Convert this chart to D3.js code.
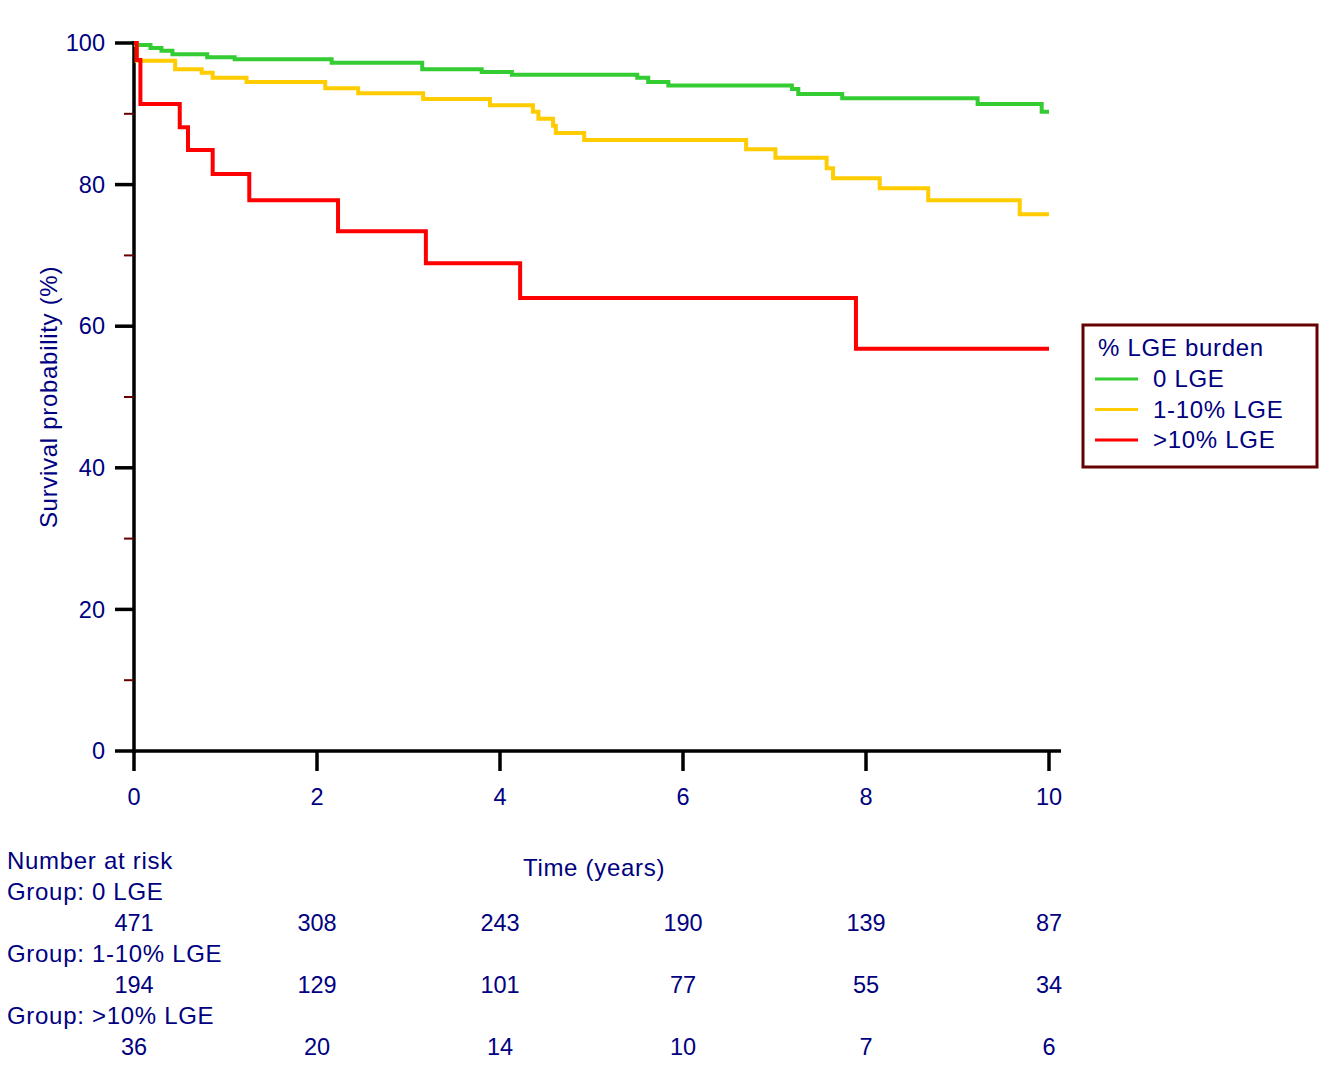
<!DOCTYPE html>
<html>
<head>
<meta charset="utf-8">
<script src="https://cdn.jsdelivr.net/npm/d3@7"></script>
<style>
  body { margin: 0; background: #fff; }
  text { font-family: Arial, "Liberation Sans", sans-serif; fill: #000080; }
  .lbl { font-size: 24px; letter-spacing: 0.7px; }
  .num { font-size: 23.5px; }
</style>
</head>
<body>
<svg id="chart" width="1335" height="1088"></svg>
<script>
// Kaplan-Meier steps: time (years) and survival (%)
const groups = ["0 LGE", "1-10% LGE", ">10% LGE"];
const colors = ["#33cc33", "#ffcc00", "#ff0000"];

const greenTime = [0, 0.02, 0.18, 0.30, 0.42, 0.80, 1.10, 2.16, 3.15, 3.80, 4.13, 5.50, 5.62, 5.84, 7.19, 7.26, 7.74, 9.22, 9.92, 10];
const greenSurv = [100, 99.7, 99.3, 98.9, 98.4, 98.0, 97.7, 97.2, 96.3, 95.9, 95.5, 95.1, 94.5, 94.0, 93.5, 92.8, 92.2, 91.4, 90.3, 90.3];

const yellowTime = [0, 0.03, 0.45, 0.74, 0.86, 1.23, 2.09, 2.45, 3.16, 3.89, 4.36, 4.42, 4.58, 4.61, 4.92, 6.69, 7.01, 7.57, 7.64, 8.15, 8.68, 9.68, 10];
const yellowSurv = [100, 97.5, 96.3, 95.8, 95.1, 94.5, 93.6, 92.9, 92.1, 91.2, 90.3, 89.3, 88.3, 87.3, 86.3, 85.0, 83.8, 82.3, 80.9, 79.5, 77.8, 75.8, 75.8];

const redTime = [0, 0.03, 0.07, 0.50, 0.59, 0.86, 1.26, 2.23, 3.19, 4.22, 7.89, 10];
const redSurv = [100, 97.6, 91.4, 88.1, 84.9, 81.5, 77.8, 73.4, 68.9, 64.0, 56.8, 56.8];

const xTicks = [0, 2, 4, 6, 8, 10];
const yTicks = [0, 20, 40, 60, 80, 100];
const yMinorTicks = [10, 30, 50, 70, 90];

// number at risk at each x tick
const riskGroup0 = [471, 308, 243, 190, 139, 87];
const riskGroup1 = [194, 129, 101, 77, 55, 34];
const riskGroup2 = [36, 20, 14, 10, 7, 6];

const svg = d3.select("#chart");

const x = d3.scaleLinear().domain([0, 10]).range([134, 1049]);
const y = d3.scaleLinear().domain([0, 100]).range([751, 43]);

// axes
svg.append("line").attr("x1", 134).attr("x2", 1061).attr("y1", 751).attr("y2", 751)
    .attr("stroke", "#000").attr("stroke-width", 3.5);
svg.append("line").attr("x1", 134).attr("x2", 134).attr("y1", 41).attr("y2", 753)
    .attr("stroke", "#000").attr("stroke-width", 3.5);

svg.selectAll(".ymajor").data(yTicks).enter().append("line")
    .attr("x1", 115).attr("x2", 134)
    .attr("y1", d => y(d)).attr("y2", d => y(d))
    .attr("stroke", "#000").attr("stroke-width", 3.5);

svg.selectAll(".yminor").data(yMinorTicks).enter().append("line")
    .attr("x1", 124).attr("x2", 134)
    .attr("y1", d => y(d)).attr("y2", d => y(d))
    .attr("stroke", "#660000").attr("stroke-width", 2);

svg.selectAll(".ylab").data(yTicks).enter().append("text")
    .attr("class", "num")
    .attr("x", 105).attr("y", d => y(d)).attr("dy", "0.35em")
    .attr("text-anchor", "end")
    .text(d => d);

svg.selectAll(".xmajor").data(xTicks).enter().append("line")
    .attr("x1", d => x(d)).attr("x2", d => x(d))
    .attr("y1", 751).attr("y2", 771)
    .attr("stroke", "#000").attr("stroke-width", 3.5);

svg.selectAll(".xlab").data(xTicks).enter().append("text")
    .attr("class", "num")
    .attr("x", d => x(d)).attr("y", 797).attr("dy", "0.35em")
    .attr("text-anchor", "middle")
    .text(d => d);

// axis titles
svg.append("text")
    .attr("class", "lbl")
    .attr("transform", "translate(49,397) rotate(-90)")
    .attr("dy", "0.35em")
    .attr("text-anchor", "middle")
    .text("Survival probability (%)");

svg.append("text")
    .attr("class", "lbl")
    .attr("x", 594).attr("y", 868).attr("dy", "0.35em")
    .attr("text-anchor", "middle")
    .text("Time (years)");

// survival curves
const series = [
    greenTime.map((t, i) => [t, greenSurv[i]]),
    yellowTime.map((t, i) => [t, yellowSurv[i]]),
    redTime.map((t, i) => [t, redSurv[i]])
];

const line = d3.line()
    .x(d => x(d[0]))
    .y(d => y(d[1]))
    .curve(d3.curveStepAfter);

series.forEach((s, i) => {
    svg.append("path")
        .attr("d", line(s))
        .attr("fill", "none")
        .attr("stroke", colors[i])
        .attr("stroke-width", 4);
});

// legend
const lg = svg.append("g");
lg.append("rect").attr("x", 1083).attr("y", 325).attr("width", 234).attr("height", 142)
    .attr("fill", "#fff").attr("stroke", "#660000").attr("stroke-width", 3);
lg.append("text").attr("class", "lbl").attr("x", 1098).attr("y", 348).attr("dy", "0.35em")
    .text("% LGE burden");
groups.forEach((g, i) => {
    const ly = 379 + i * 30.5;
    lg.append("line").attr("x1", 1095).attr("x2", 1138).attr("y1", ly).attr("y2", ly)
        .attr("stroke", colors[i]).attr("stroke-width", 3);
    lg.append("text").attr("class", "lbl").attr("x", 1153).attr("y", ly).attr("dy", "0.35em")
        .text(g);
});

// number at risk table
const risk = [riskGroup0, riskGroup1, riskGroup2];
svg.append("text").attr("class", "lbl").attr("x", 7).attr("y", 861).attr("dy", "0.35em")
    .text("Number at risk");
risk.forEach((r, i) => {
    const ry = 892 + i * 62;
    svg.append("text").attr("class", "lbl").attr("x", 7).attr("y", ry).attr("dy", "0.35em")
        .text("Group: " + groups[i]);
    svg.selectAll(".risk" + i).data(r).enter().append("text")
        .attr("class", "num")
        .attr("x", (d, j) => x(xTicks[j])).attr("y", ry + 31).attr("dy", "0.35em")
        .attr("text-anchor", "middle")
        .text(d => d);
});
</script>
</body>
</html>
